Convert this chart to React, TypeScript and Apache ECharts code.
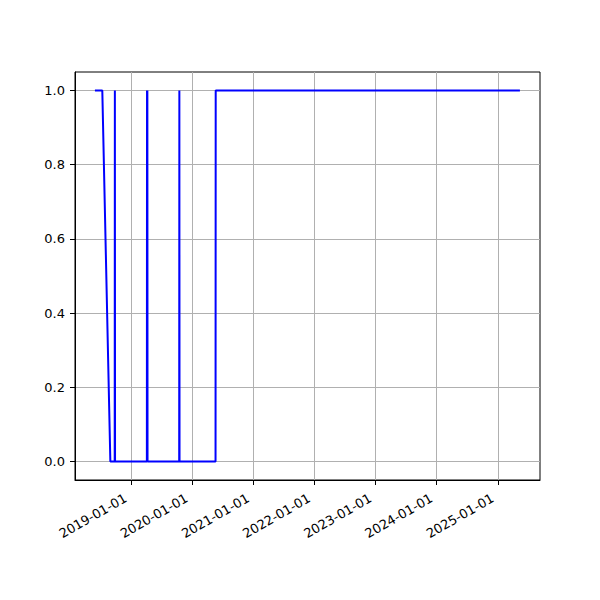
import React, { useEffect, useRef } from "react";
import * as echarts from "echarts";

const dates: string[] = [
  "2018-06-01", "2018-07-15", "2018-09-01", "2018-09-27", "2018-09-28", "2018-09-29",
  "2019-04-07", "2019-04-08", "2019-04-09", "2019-04-10", "2019-04-11",
  "2019-10-17", "2019-10-18", "2019-10-19",
  "2020-05-21", "2020-05-22", "2025-05-12",
];
const values: number[] = [
  1, 1, 0, 0, 1, 0,
  0, 1, 0, 1, 0,
  0, 1, 0,
  0, 1, 1,
];
const xTickDates: string[] = [
  "2019-01-01", "2020-01-01", "2021-01-01", "2022-01-01", "2023-01-01", "2024-01-01", "2025-01-01",
];
const xMinDate = "2018-02-02";
const xMaxDate = "2025-09-09";
const yTicks: number[] = [0, 0.2, 0.4, 0.6, 0.8, 1.0];

const ts = (s: string) => {
  const [y, m, d] = s.split("-").map(Number);
  return Date.UTC(y, m - 1, d);
};
const pad = (n: number) => (n < 10 ? "0" + n : "" + n);
const fmt = (v: number) => {
  const d = new Date(v);
  return d.getUTCFullYear() + "-" + pad(d.getUTCMonth() + 1) + "-" + pad(d.getUTCDate());
};

export default function App() {
  const ref = useRef<HTMLDivElement>(null);
  useEffect(() => {
    if (!ref.current) return;
    const chart = echarts.init(ref.current, null, { renderer: "svg" });
    const font = "DejaVu Sans";
    chart.setOption({
      animation: false,
      textStyle: { fontFamily: font },
      grid: {
        left: 67, top: 64, width: 465, height: 408,
        show: true, borderColor: "#000", borderWidth: 1, backgroundColor: "#fff",
      },
      xAxis: {
        type: "value",
        min: ts(xMinDate),
        max: ts(xMaxDate),
        axisLine: { show: true, onZero: false, lineStyle: { color: "#000", width: 1 } },
        axisTick: {
          show: true, length: 5, lineStyle: { color: "#000", width: 1 },
          customValues: xTickDates.map(ts),
        },
        axisLabel: {
          customValues: xTickDates.map(ts),
          rotate: 30, fontSize: 13, color: "#000", fontFamily: font, margin: 14,
          padding: [0, 6, 0, 0],
          formatter: (v: number) => fmt(v),
        },
        splitLine: { show: true, lineStyle: { color: "#b0b0b0", width: 1 } },
      },
      yAxis: {
        type: "value",
        min: -0.05,
        max: 1.05,
        axisLine: { show: true, lineStyle: { color: "#000", width: 1 } },
        axisTick: {
          show: true, length: 5, lineStyle: { color: "#000", width: 1 },
          customValues: yTicks,
        },
        axisLabel: {
          customValues: yTicks,
          fontSize: 13, color: "#000", fontFamily: font, margin: 10,
          formatter: (v: number) => v.toFixed(1),
        },
        splitLine: { show: true, lineStyle: { color: "#b0b0b0", width: 1 } },
      },
      series: [
        {
          type: "line",
          data: dates.map((d, i) => [ts(d), values[i]]),
          showSymbol: false,
          symbol: "none",
          lineStyle: { color: "#0000ff", width: 2 },
          itemStyle: { color: "#0000ff" },
        },
      ],
    });
    return () => chart.dispose();
  }, []);
  return <div ref={ref} style={{ width: 600, height: 600 }} />;
}
